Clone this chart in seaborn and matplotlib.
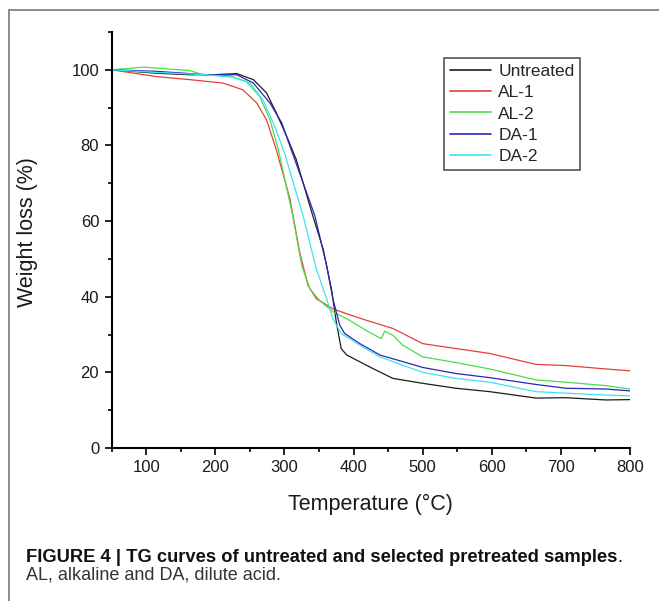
import seaborn as sns
import matplotlib.pyplot as plt
import matplotlib.patches as mpatches
import pandas as pd

# TG curves: temperature (°C) and weight (%)
untreated_t = [50, 115, 163, 197, 231, 255, 274, 288, 303, 317, 341, 356, 368, 375, 382, 390, 428, 457, 500, 548, 597, 664, 707, 765, 800]
untreated_w = [100, 99.1, 98.7, 98.7, 99.0, 97.4, 93.9, 88.7, 82.5, 76.3, 61.4, 52.6, 42.0, 33.3, 26.3, 24.6, 21.0, 18.4, 17.1, 15.8, 14.9, 13.2, 13.3, 12.7, 12.8]

al1_t = [50, 115, 163, 211, 240, 260, 274, 288, 308, 322, 334, 346, 370, 390, 418, 457, 500, 548, 597, 664, 707, 765, 800]
al1_w = [100, 98.2, 97.4, 96.5, 94.7, 91.2, 86.8, 79.0, 65.8, 51.8, 43.0, 39.5, 36.8, 35.5, 33.8, 31.6, 27.6, 26.3, 25.0, 22.1, 21.8, 20.9, 20.4]

al2_t = [50, 96, 163, 182, 221, 245, 264, 279, 291, 312, 325, 337, 351, 370, 390, 418, 440, 445, 457, 471, 500, 548, 597, 664, 707, 765, 800]
al2_w = [100, 100.7, 99.8, 98.7, 98.4, 96.9, 93.0, 86.8, 79.0, 61.4, 48.2, 42.0, 39.0, 36.0, 34.2, 31.1, 28.9, 30.9, 29.8, 27.2, 24.1, 22.6, 20.9, 18.0, 17.4, 16.5, 15.6]

da1_t = [50, 115, 187, 231, 255, 279, 296, 308, 344, 361, 370, 380, 387, 409, 438, 500, 548, 597, 664, 707, 765, 800]
da1_w = [100, 99.6, 98.7, 98.7, 96.5, 91.2, 86.0, 79.8, 61.4, 48.2, 39.5, 32.5, 30.3, 27.6, 24.6, 21.3, 19.7, 18.6, 16.8, 15.8, 15.6, 15.1]

da2_t = [50, 115, 187, 226, 250, 269, 286, 300, 327, 346, 361, 370, 382, 409, 438, 500, 548, 597, 664, 707, 765, 800]
da2_w = [100, 99.3, 98.7, 98.0, 96.5, 92.0, 85.0, 78.0, 61.4, 47.4, 39.5, 34.2, 30.3, 27.2, 24.1, 20.0, 18.4, 17.4, 14.9, 14.5, 14.0, 13.8]

names = ["Untreated", "AL-1", "AL-2", "DA-1", "DA-2"]
colores = ["#1c1c1c", "#e4403c", "#4ddc4d", "#2828b4", "#3ee4ec"]

frames = []
for nombre, t, w in zip(names, [untreated_t, al1_t, al2_t, da1_t, da2_t],
                        [untreated_w, al1_w, al2_w, da1_w, da2_w]):
    frames.append(pd.DataFrame({"Temperature": t, "Weight": w, "Sample": nombre}))
datos = pd.concat(frames, ignore_index=True)

sns.set_theme(style="ticks")
plt.rcParams["font.family"] = ["Liberation Sans", "DejaVu Sans"]

fig = plt.figure(figsize=(6.59, 6.01), dpi=100)
ax = fig.add_axes([111.7 / 659, 1 - 448 / 601, (630 - 111.7) / 659, (448 - 32) / 601])

sns.lineplot(data=datos, x="Temperature", y="Weight", hue="Sample", hue_order=names,
             palette=colores, linewidth=0.9, sort=False, estimator=None, ax=ax)

ax.set_xlim(50, 800)
ax.set_ylim(0, 110)
ax.set_xticks(range(100, 801, 100))
ax.set_xticks(range(50, 801, 50), minor=True)
ax.set_yticks(range(0, 101, 20))
ax.set_yticks(range(10, 111, 20), minor=True)
sns.despine(ax=ax)
for s in ["left", "bottom"]:
    ax.spines[s].set_linewidth(1.5)
    ax.spines[s].set_color("black")
ax.tick_params(which="major", length=5, width=1.2, labelsize=12, pad=4, color="black", labelcolor="#1a1a1a")
ax.tick_params(which="minor", length=3, width=1.2, color="black")
ax.set_xlabel("Temperature (°C)", fontsize=15.5, color="#1a1a1a", labelpad=13)
ax.set_ylabel("Weight loss (%)", fontsize=15.5, color="#1a1a1a")
ax.yaxis.set_label_coords(-0.142, 0.52)

leg = ax.legend(loc="upper left", bbox_to_anchor=(444 / 659, 1 - 58 / 601),
                bbox_transform=fig.transFigure, fontsize=12.5, frameon=True,
                fancybox=False, framealpha=1, edgecolor="#555555",
                handlelength=2.4, handletextpad=0.4, labelspacing=0.36,
                borderpad=0.32, borderaxespad=0)
leg.get_frame().set_linewidth(1.2)
for linea in leg.get_lines():
    linea.set_linewidth(1.2)

# marco de la figura y pie
fig.patches.append(mpatches.Rectangle((9 / 659, -0.1), 1.2, 1 - 10 / 601 + 0.1,
                                      transform=fig.transFigure, fill=False,
                                      edgecolor="#777777", linewidth=1.2))
t1 = fig.text(26 / 659, 1 - 557 / 601, "FIGURE 4 | TG curves of untreated and selected pretreated samples",
              fontsize=13.2, fontweight="bold", va="center", ha="left", color="#111111")
fig.canvas.draw()
bb = t1.get_window_extent()
fig.text(bb.x1 / 659, 1 - 557 / 601, ".", fontsize=13.2, va="center", ha="left", color="#111111")
fig.text(26 / 659, 1 - 575 / 601, "AL, alkaline and DA, dilute acid.", fontsize=13,
         va="center", ha="left", color="#333333")

fig.savefig("out.png", dpi=100)
